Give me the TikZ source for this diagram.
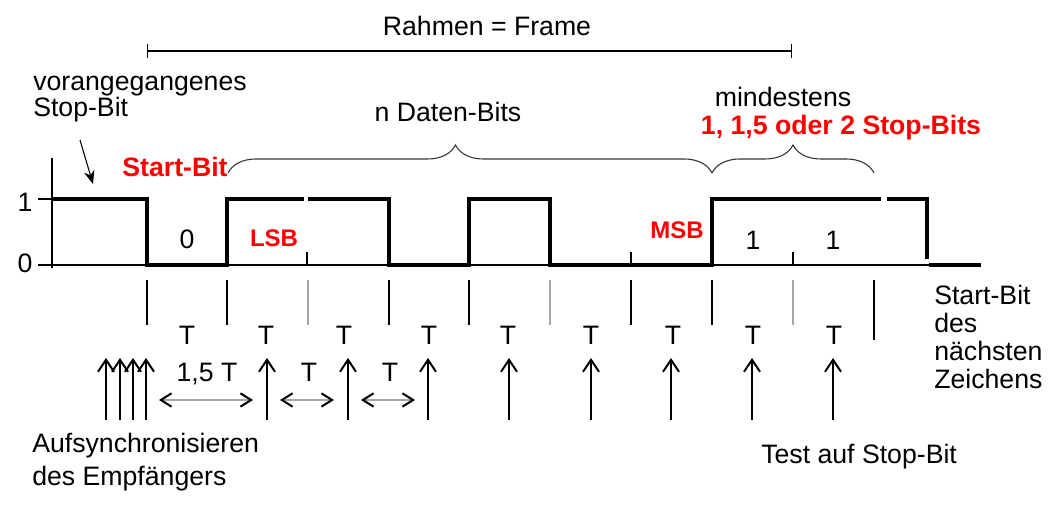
\documentclass[tikz,border=0pt]{standalone}
\usepackage{fontspec}
\setmainfont{Liberation Sans}
\usetikzlibrary{positioning,arrows.meta,decorations.pathreplacing}

\begin{document}
\begin{tikzpicture}[x=0.75pt,y=-0.75pt,
font=\fontsize{20}{20}\selectfont,
lbl/.style={inner sep=0pt},
hot/.style={lbl,text=red,font=\fontsize{20}{20}\selectfont\bfseries},
small hot/.style={hot,font=\fontsize{18}{18}\selectfont\bfseries},
sig/.style={line width=3pt},
rule/.style={line width=1.1pt},
samp/.style={line width=1.1pt,-{Straight Barb[length=9pt,width=12pt,line width=1.5pt]}},
span/.style={line width=1.1pt,gray!70,
  {Straight Barb[length=8pt,width=10pt,line width=1.5pt,black]}-{Straight Barb[length=8pt,width=10pt,line width=1.5pt,black]}},
brc/.style={decorate,decoration={brace,amplitude=21pt},gray!40!black,line width=0.8pt}
]
\useasboundingbox (0,0) rectangle (1058,505);

% frame
\node[lbl,anchor=base] (frame) at (487,36) {Rahmen = Frame};
\coordinate (fs) at (147,51);
\coordinate (fe) at (792,51);
\draw[rule,{Bar[width=10pt]}-{Bar[width=10pt]}] (fs) -- (fe);

% texts above the signal
\node[lbl,anchor=base west,align=left] (prev) at (33,117) {vorangegangenes\\Stop-Bit};
\node[lbl,anchor=base] (data) at (448,122) {n Daten-Bits};
\node[lbl,anchor=base] (min) at (783,107) {mindestens};
\node[hot,anchor=base] (stops) at (841,135) {1, 1,5 oder 2 Stop-Bits};
\node[hot,anchor=base] (start) at (175,177) {Start-Bit};
\coordinate (pa) at (80,140);
\coordinate (pb) at (93,184);
\draw[line width=0.8pt,-{Stealth[length=10pt,width=8pt]}] (pa) -- (pb);

% braces
\draw[brc,decoration={aspect=0.47}] (228,173) -- (712,173);
\draw[brc] (712,173) -- (874,173);

% axes
\draw[rule] (52,158) -- (52,268);
\draw[rule] (38,199) -- (52,199);
\draw[rule] (38,265) -- (929,265);
\node[lbl,anchor=base] (one) at (25,212) {1};
\node[lbl,anchor=base] (zero) at (25,273) {0};
\foreach \x in {307,631,793}
  \draw[rule] (\x,252) -- (\x,265);

% signal
\draw[sig] (52,199) -- (147,199) -- (147,265) -- (227,265) -- (227,199) -- (304,199);
\draw[sig] (308,199) -- (389,199) -- (389,265) -- (469,265) -- (469,199)
  -- (550,199) -- (550,265) -- (712,265) -- (712,199) -- (881,199);
\draw[sig] (887,199) -- (927,199) -- (927,259);
\draw[sig] (929,265) -- (981,265);

% bit values
\node[lbl,anchor=base] (b0) at (187,249) {0};
\node[small hot,anchor=base] (lsb) at (274,247) {LSB};
\node[small hot,anchor=base] (msb) at (677,239) {MSB};
\node[lbl,anchor=base] (s1) at (753,250) {1};
\node[lbl,anchor=base] (s2) at (833,250) {1};

% bit boundaries
\foreach \x/\c in {147/black,227/black,308/gray!70,389/black,469/black,
                   550/gray!70,631/black,712/black,793/gray!70}
  \draw[rule,\c] (\x,280) -- (\x,325);
\draw[rule] (874,280) -- (874,340);

% bit times
\foreach \x in {187,266,344,429,508,591,673,753,834}
  \node[lbl,anchor=base] at (\x,345) {T};

% sampling
\foreach \x in {106,120,133,146,267,348,428,509,591,671,752,833}
  \draw[samp] (\x,420) -- (\x,358);
\node[lbl,anchor=base] (t15) at (207,382) {1,5 T};
\node[lbl,anchor=base] (t1) at (309,382) {T};
\node[lbl,anchor=base] (t2) at (390,382) {T};
\draw[span] (159,400) -- (253,400);
\draw[span] (280,400) -- (334,400);
\draw[span] (361,400) -- (415,400);

% texts below
\node[lbl,anchor=base west,align=left,font=\fontsize{20}{24.75}\selectfont] (sync) at (32,486)
  {Aufsynchronisieren\\des Empfängers};
\node[lbl,anchor=base west] (test) at (761,464) {Test auf Stop-Bit};
\node[lbl,anchor=base west,align=left,font=\fontsize{20}{21}\selectfont] (next) at (934,389)
  {Start-Bit\\des\\nächsten\\Zeichens};
\end{tikzpicture}
\end{document}
